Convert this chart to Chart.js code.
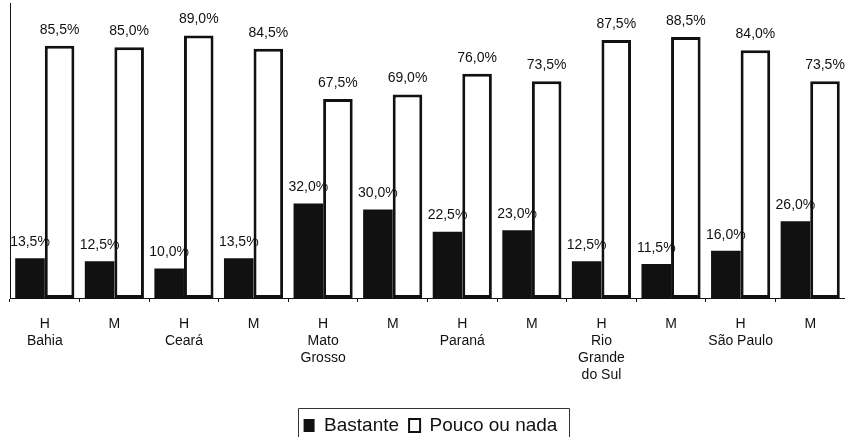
<!DOCTYPE html>
<html>
<head>
<meta charset="utf-8">
<script src="https://cdn.jsdelivr.net/npm/chart.js@4/dist/chart.umd.min.js"></script>
<style>
  html, body { margin: 0; padding: 0; background: #fff; overflow: hidden; }
  #wrap { width: 845px; height: 437px; overflow: hidden; }
</style>
</head>
<body>
<div id="wrap"><canvas id="myChart" width="845" height="445"></canvas></div>
<script>
// categories: sex on first line, state below it
const categories = [
  ["H", "Bahia"], ["M"],
  ["H", "Ceará"], ["M"],
  ["H", "Mato", "Grosso"], ["M"],
  ["H", "Paraná"], ["M"],
  ["H", "Rio", "Grande", "do Sul"], ["M"],
  ["H", "São Paulo"], ["M"]
];
const bastante = [13.5, 12.5, 10.0, 13.5, 32.0, 30.0, 22.5, 23.0, 12.5, 11.5, 16.0, 26.0];
const poucoOuNada = [85.5, 85.0, 89.0, 84.5, 67.5, 69.0, 76.0, 73.5, 87.5, 88.5, 84.0, 73.5];
const seriesNames = ["Bastante", "Pouco ou nada"];

const FONT = "'Liberation Sans', Arial, Helvetica, sans-serif";
const INK = "#111";

const fmt = (v) => v.toFixed(1).replace(".", ",") + "%";

// value labels above every bar
const valueLabels = {
  id: "valueLabels",
  afterDatasetsDraw(chart) {
    const ctx = chart.ctx;
    ctx.save();
    ctx.font = "14px " + FONT;
    ctx.fillStyle = INK;
    ctx.textAlign = "center";
    ctx.textBaseline = "middle";
    chart.data.datasets.forEach((ds, i) => {
      chart.getDatasetMeta(i).data.forEach((bar, j) => {
        ctx.fillText(fmt(ds.data[j]), bar.x, bar.y - 16);
      });
    });
    ctx.restore();
  }
};

// nudge legend a bit to the right, like the original
const legendShift = {
  id: "legendShift",
  afterLayout(chart) {
    chart.legend.left += 14;
  }
};

// thin frame round the legend, like the original
const legendFrame = {
  id: "legendFrame",
  afterDraw(chart) {
    const boxes = chart.legend.legendHitBoxes;
    if (!boxes || !boxes.length) return;
    const first = boxes[0];
    const last = boxes[boxes.length - 1];
    const ctx = chart.ctx;
    ctx.save();
    ctx.strokeStyle = "#333";
    ctx.lineWidth = 1;
    const left = Math.round(first.left - 6) + 0.5;
    const right = Math.round(last.left + last.width + 12) + 0.5;
    const top = Math.round(first.top - 8) + 0.5;
    ctx.beginPath();
    ctx.moveTo(left, chart.height + 5);
    ctx.lineTo(left, top);
    ctx.lineTo(right, top);
    ctx.lineTo(right, chart.height + 5);
    ctx.stroke();
    ctx.restore();
  }
};

const chart_target = document.querySelector("#myChart");

new Chart(chart_target, {
  type: "bar",
  data: {
    labels: categories,
    datasets: [
      {
        label: seriesNames[0],
        data: bastante,
        backgroundColor: INK,
        borderWidth: 0
      },
      {
        label: seriesNames[1],
        data: poucoOuNada,
        backgroundColor: "#fff",
        borderColor: INK,
        borderWidth: 3,
        borderSkipped: false
      }
    ]
  },
  options: {
    responsive: false,
    animation: false,
    devicePixelRatio: 1,
    categoryPercentage: 0.85,
    barPercentage: 1.0,
    layout: { padding: { left: 2, right: 0, top: 3, bottom: 0 } },
    plugins: {
      tooltip: { enabled: false },
      legend: {
        position: "bottom",
        labels: {
          color: INK,
          font: { family: FONT, size: 19 },
          boxWidth: 11,
          boxHeight: 13,
          padding: 10,
          generateLabels(chart) {
            const items = Chart.defaults.plugins.legend.labels.generateLabels(chart);
            items.forEach((it) => { it.lineWidth = it.lineWidth ? 2 : 0; });
            return items;
          }
        }
      }
    },
    scales: {
      x: {
        grid: {
          display: true,
          drawOnChartArea: false,
          drawTicks: true,
          tickLength: 4,
          color: INK
        },
        border: { display: true, color: INK, width: 1 },
        ticks: {
          color: INK,
          font: { family: FONT, size: 14 },
          padding: 14,
          maxRotation: 0,
          autoSkip: false
        },
        afterFit(scale) { scale.height = 108; }
      },
      y: {
        min: 0,
        max: 100,
        grid: { display: false },
        border: { display: true, color: INK, width: 1 },
        ticks: { display: false }
      }
    }
  },
  plugins: [valueLabels, legendShift, legendFrame]
});
</script>
</body>
</html>
